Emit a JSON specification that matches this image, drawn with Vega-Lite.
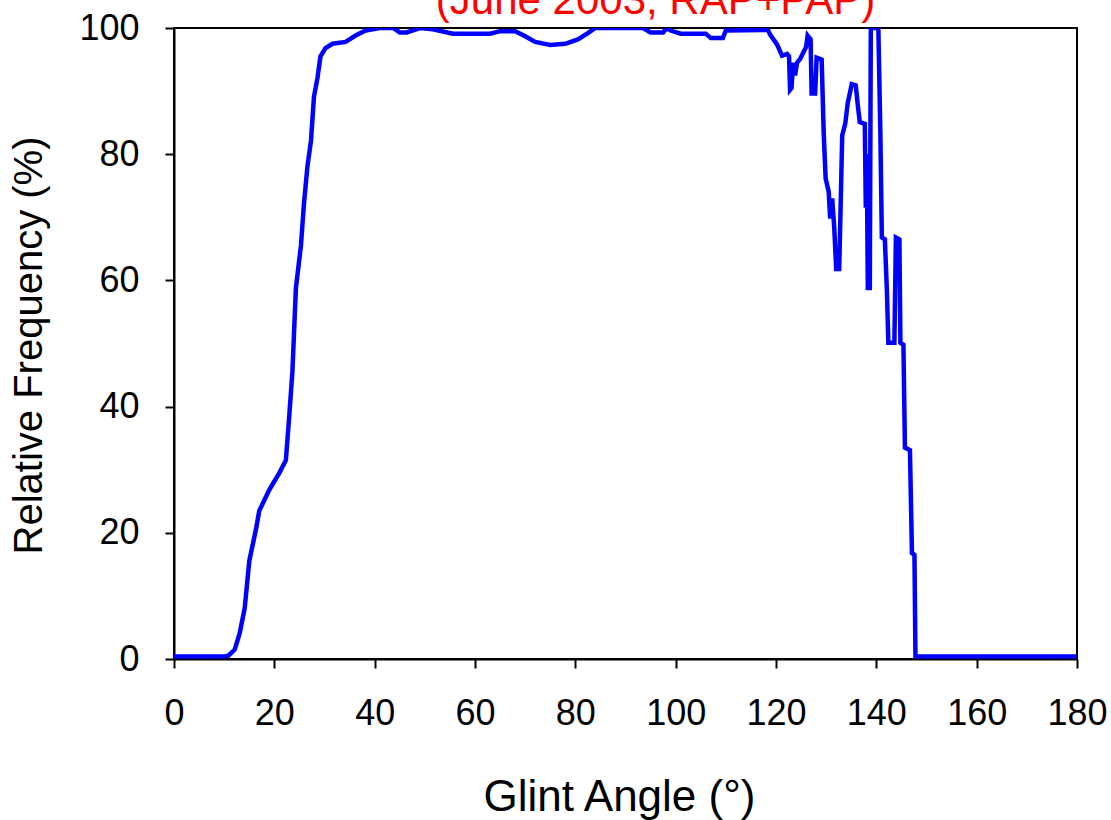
{
  "$schema": "https://vega.github.io/schema/vega-lite/v6.json",
  "autosize": {"type": "none"},
  "padding": {"left": 174, "top": 28, "right": 34, "bottom": 161},
  "width": 903,
  "height": 631,
  "background": "white",
  "config": {
    "font": "Liberation Sans",
    "view": {"stroke": "black", "strokeWidth": 2},
    "axis": {
      "grid": false,
      "labelFlush": false,
      "domainColor": "black",
      "domainWidth": 2,
      "tickColor": "black",
      "tickWidth": 2,
      "tickSize": 9,
      "labelColor": "black",
      "labelFont": "Liberation Sans",
      "labelFontSize": 36,
      "titleFont": "Liberation Sans",
      "titleColor": "black",
      "titleFontWeight": "normal"
    }
  },
  "title": {
    "text": "(June 2003, RAP+PAP)",
    "color": "red",
    "font": "Liberation Sans",
    "fontSize": 42,
    "fontWeight": "normal",
    "anchor": "middle",
    "frame": "group",
    "baseline": "alphabetic",
    "offset": 0,
    "dx": 30,
    "dy": 46
  },
  "data": {
    "values": [
      {"angle": 0, "freq": 0.4}, {"angle": 5, "freq": 0.4}, {"angle": 10, "freq": 0.4},
      {"angle": 10.8, "freq": 0.5}, {"angle": 12.1, "freq": 1.5}, {"angle": 13.1, "freq": 4.1},
      {"angle": 14.1, "freq": 8.1}, {"angle": 15, "freq": 15.5}, {"angle": 16.4, "freq": 20.8},
      {"angle": 17, "freq": 23.5}, {"angle": 19, "freq": 26.8}, {"angle": 21, "freq": 29.5},
      {"angle": 22.3, "freq": 31.5}, {"angle": 23, "freq": 38.8}, {"angle": 23.6, "freq": 45.5},
      {"angle": 24.3, "freq": 58.8}, {"angle": 25.3, "freq": 65.5}, {"angle": 25.9, "freq": 72.1},
      {"angle": 26.6, "freq": 78.1}, {"angle": 27.3, "freq": 82.1}, {"angle": 27.9, "freq": 89.1},
      {"angle": 28.6, "freq": 92.1}, {"angle": 29.2, "freq": 95.5}, {"angle": 30.2, "freq": 96.8},
      {"angle": 31.6, "freq": 97.5}, {"angle": 34.2, "freq": 97.8}, {"angle": 36.2, "freq": 98.8},
      {"angle": 38.2, "freq": 99.6}, {"angle": 41, "freq": 100}, {"angle": 43.7, "freq": 100},
      {"angle": 45, "freq": 99.3}, {"angle": 46.4, "freq": 99.3}, {"angle": 49, "freq": 100},
      {"angle": 51.6, "freq": 99.8}, {"angle": 55.6, "freq": 99.1}, {"angle": 63, "freq": 99.1},
      {"angle": 65, "freq": 99.5}, {"angle": 68, "freq": 99.5}, {"angle": 70, "freq": 98.7},
      {"angle": 72, "freq": 97.8}, {"angle": 75, "freq": 97.3}, {"angle": 78, "freq": 97.5},
      {"angle": 80.5, "freq": 98.2}, {"angle": 82.5, "freq": 99.2}, {"angle": 84, "freq": 100},
      {"angle": 93.5, "freq": 100}, {"angle": 95, "freq": 99.3}, {"angle": 97.5, "freq": 99.3},
      {"angle": 98.2, "freq": 100}, {"angle": 99, "freq": 99.6}, {"angle": 101, "freq": 99.1},
      {"angle": 106, "freq": 99.1}, {"angle": 107, "freq": 98.4}, {"angle": 109.4, "freq": 98.4},
      {"angle": 110, "freq": 99.6}, {"angle": 118.4, "freq": 99.7}, {"angle": 118.8, "freq": 99},
      {"angle": 120.2, "freq": 97.4}, {"angle": 121.2, "freq": 95.6}, {"angle": 122.2, "freq": 95.9},
      {"angle": 122.6, "freq": 95.5}, {"angle": 122.8, "freq": 90.2}, {"angle": 123.1, "freq": 90.5},
      {"angle": 123.4, "freq": 94.5}, {"angle": 123.8, "freq": 92.5}, {"angle": 124.2, "freq": 94.5},
      {"angle": 124.8, "freq": 95.1}, {"angle": 126, "freq": 97}, {"angle": 126.3, "freq": 98.8},
      {"angle": 126.9, "freq": 98.2}, {"angle": 127.1, "freq": 89.6}, {"angle": 127.8, "freq": 89.6},
      {"angle": 128.1, "freq": 95.3}, {"angle": 129.1, "freq": 95.0}, {"angle": 129.3, "freq": 89.4},
      {"angle": 129.5, "freq": 83.5}, {"angle": 129.9, "freq": 76.1}, {"angle": 130.5, "freq": 74.1},
      {"angle": 130.8, "freq": 69.8}, {"angle": 131.2, "freq": 73.0}, {"angle": 131.6, "freq": 68.5},
      {"angle": 132.0, "freq": 61.8}, {"angle": 132.6, "freq": 61.8}, {"angle": 132.9, "freq": 72.4},
      {"angle": 133.2, "freq": 83}, {"angle": 133.8, "freq": 84.8}, {"angle": 134.3, "freq": 88.1},
      {"angle": 135.1, "freq": 91.1}, {"angle": 135.9, "freq": 90.9}, {"angle": 136.3, "freq": 87.8},
      {"angle": 136.7, "freq": 85.1}, {"angle": 137.7, "freq": 84.8}, {"angle": 137.9, "freq": 71.5},
      {"angle": 138.1, "freq": 80}, {"angle": 138.3, "freq": 58.8}, {"angle": 138.7, "freq": 58.8},
      {"angle": 138.9, "freq": 100}, {"angle": 139.6, "freq": 100}, {"angle": 140.4, "freq": 100},
      {"angle": 140.8, "freq": 83.5}, {"angle": 141.1, "freq": 66.8}, {"angle": 141.7, "freq": 66.5},
      {"angle": 142.1, "freq": 58.5}, {"angle": 142.4, "freq": 50.1}, {"angle": 143.6, "freq": 50.1},
      {"angle": 143.9, "freq": 66.8}, {"angle": 144.6, "freq": 66.5}, {"angle": 144.8, "freq": 50.1},
      {"angle": 145.4, "freq": 49.8}, {"angle": 145.7, "freq": 33.5}, {"angle": 146.7, "freq": 33.1},
      {"angle": 147.1, "freq": 16.8}, {"angle": 147.6, "freq": 16.5}, {"angle": 147.8, "freq": 0.4},
      {"angle": 150, "freq": 0.4}, {"angle": 165, "freq": 0.4}, {"angle": 180, "freq": 0.4}
    ]
  },
  "mark": {"type": "line", "color": "#0000FF", "strokeWidth": 4.5, "clip": true},
  "encoding": {
    "x": {
      "field": "angle",
      "type": "quantitative",
      "scale": {"domain": [0, 180], "nice": false},
      "axis": {
        "values": [0, 20, 40, 60, 80, 100, 120, 140, 160, 180],
        "labelPadding": 28,
        "title": "Glint Angle (°)",
        "titleFontSize": 44,
        "titleBaseline": "alphabetic",
        "titleX": 445,
        "titleY": 151,
        "titleAlign": "center"
      }
    },
    "y": {
      "field": "freq",
      "type": "quantitative",
      "scale": {"domain": [0, 100], "nice": false},
      "axis": {
        "values": [0, 20, 40, 60, 80, 100],
        "labelPadding": 26,
        "title": "Relative Frequency (%)",
        "titleFontSize": 40,
        "titleAngle": -90,
        "titleBaseline": "alphabetic",
        "titleX": -133,
        "titleY": 317,
        "titleAlign": "center"
      }
    }
  }
}
